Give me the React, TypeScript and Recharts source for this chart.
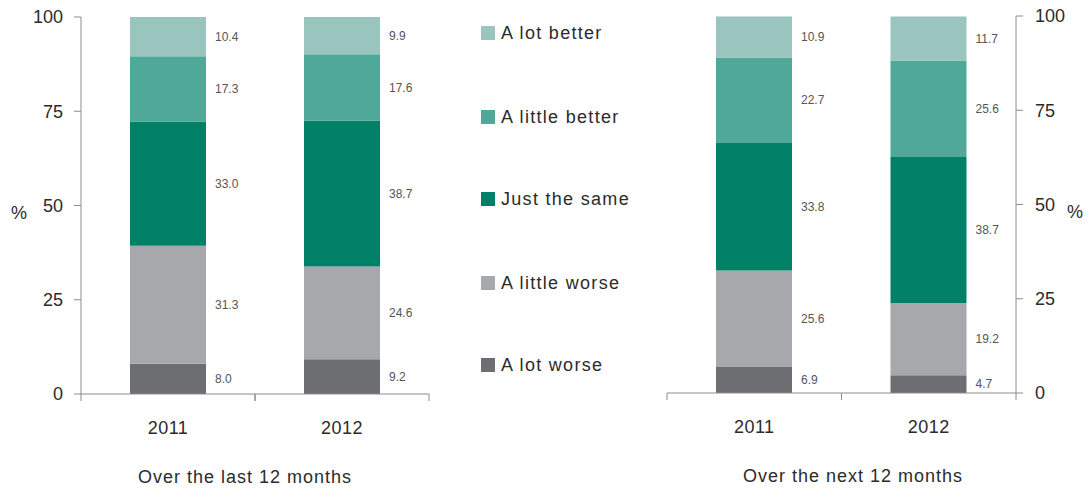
import React from 'react';
import { BarChart, Bar, XAxis, YAxis, LabelList } from 'recharts';

const categories = ['2011', '2012'];
const seriesNames = ['A lot worse', 'A little worse', 'Just the same', 'A little better', 'A lot better'];
const seriesKeys = ['lotWorse', 'littleWorse', 'same', 'littleBetter', 'lotBetter'];
const seriesColors = ['#6d6e71', '#a7a8ab', '#008066', '#50a898', '#9ac5be'];

const lastLotWorse = [8.0, 9.2];
const lastLittleWorse = [31.3, 24.6];
const lastSame = [33.0, 38.7];
const lastLittleBetter = [17.3, 17.6];
const lastLotBetter = [10.4, 9.9];

const nextLotWorse = [6.9, 4.7];
const nextLittleWorse = [25.6, 19.2];
const nextSame = [33.8, 38.7];
const nextLittleBetter = [22.7, 25.6];
const nextLotBetter = [10.9, 11.7];

const yTicks = [0, 25, 50, 75, 100];
const panelTitles = ['Over the last 12 months', 'Over the next 12 months'];

const build = (arrs: number[][]) =>
  categories.map((c, i) => {
    const row: any = { name: c };
    seriesKeys.forEach((k, j) => (row[k] = arrs[j][i]));
    return row;
  });

const lastData = build([lastLotWorse, lastLittleWorse, lastSame, lastLittleBetter, lastLotBetter]);
const nextData = build([nextLotWorse, nextLittleWorse, nextSame, nextLittleBetter, nextLotBetter]);

const FONT = '"Liberation Sans", Arial, sans-serif';
const TEXT = '#2b2b2b';
const AXIS = '#8c8c8c';

const makeXTick = (half: number) => (props: any) => {
  const { x, y, payload } = props;
  return (
    <g>
      <line x1={x - half} x2={x - half} y1={y} y2={y + 7} stroke={AXIS} />
      <line x1={x + half} x2={x + half} y1={y} y2={y + 7} stroke={AXIS} />
      <text x={x} y={y + 40} textAnchor="middle" fontSize={18} fill={TEXT} fontFamily={FONT} letterSpacing={0.5}>
        {payload.value}
      </text>
    </g>
  );
};

const valueLabel = (props: any) => {
  const { x, y, width, height, value } = props;
  return (
    <text
      x={x + width + 9}
      y={y + height / 2}
      dy="0.35em"
      fontSize={12}
      fill="#555"
      fontFamily={FONT}
      textAnchor="start"
    >
      {Number(value).toFixed(1)}
    </text>
  );
};

const Panel = ({ data, side }: { data: any[]; side: 'left' | 'right' }) => {
  const isLeft = side === 'left';
  const width = isLeft ? 440 : 452;
  const margin = isLeft
    ? { top: 17, right: 11, left: 21, bottom: 64 }
    : { top: 16, right: 16, left: 27, bottom: 65 };
  const plotW = width - margin.left - margin.right - 60;
  const half = plotW / categories.length / 2;
  return (
    <BarChart width={width} height={488} data={data} margin={margin} barSize={76}>
      <XAxis
        dataKey="name"
        axisLine={{ stroke: AXIS }}
        tickLine={false}
        tickSize={0}
        tickMargin={0}
        tick={makeXTick(half)}
        interval={0}
      />
      <YAxis
        orientation={side}
        domain={[0, 100]}
        ticks={yTicks}
        width={60}
        axisLine={{ stroke: AXIS }}
        tickLine={{ stroke: AXIS }}
        tickSize={7}
        tickMargin={isLeft ? 11 : 12}
        tick={{ fontSize: 18, fill: TEXT, fontFamily: FONT }}
      />
      {seriesKeys.map((k, i) => (
        <Bar key={k} dataKey={k} stackId="a" fill={seriesColors[i]} isAnimationActive={false}>
          <LabelList dataKey={k} content={valueLabel} />
        </Bar>
      ))}
    </BarChart>
  );
};

const legendTops = [33, 117, 199, 283, 365];

export default function App() {
  const legendOrder = [...seriesNames.keys()].reverse();
  return (
    <div style={{ position: 'absolute', left: 0, top: 0, width: 1092, height: 488, background: '#fff', fontFamily: FONT, color: TEXT }}>
      <div style={{ position: 'absolute', left: 0, top: 0 }}>
        <Panel data={lastData} side="left" />
      </div>
      <div style={{ position: 'absolute', left: 640, top: 0 }}>
        <Panel data={nextData} side="right" />
      </div>
      <div style={{ position: 'absolute', left: 11, top: 201, fontSize: 18, lineHeight: '24px' }}>%</div>
      <div style={{ position: 'absolute', left: 1067, top: 200, fontSize: 18, lineHeight: '24px' }}>%</div>
      <div style={{ position: 'absolute', left: 45, width: 400, top: 465, textAlign: 'center', fontSize: 18, lineHeight: '24px', letterSpacing: 1 }}>
        {panelTitles[0]}
      </div>
      <div style={{ position: 'absolute', left: 653, width: 400, top: 464, textAlign: 'center', fontSize: 18, lineHeight: '24px', letterSpacing: 1 }}>
        {panelTitles[1]}
      </div>
      {legendOrder.map((idx, n) => (
        <div
          key={seriesNames[idx]}
          style={{ position: 'absolute', left: 481, top: legendTops[n] - 12, height: 24, display: 'flex', alignItems: 'center', fontSize: 18, letterSpacing: 1.3 }}
        >
          <span style={{ display: 'inline-block', width: 14, height: 14, background: seriesColors[idx], marginRight: 6 }} />
          <span>{seriesNames[idx]}</span>
        </div>
      ))}
    </div>
  );
}
